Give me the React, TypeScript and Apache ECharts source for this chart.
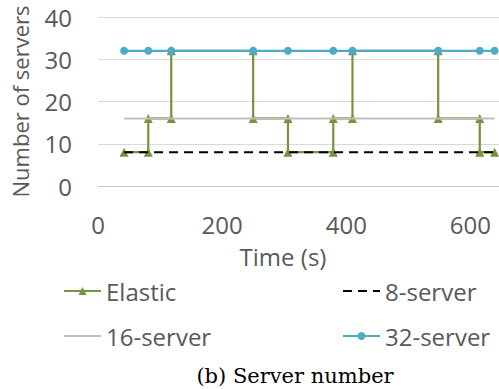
import React, { useEffect, useRef } from "react";
import * as echarts from "echarts";

const elasticData: [number, number][] = [
  [42, 8], [81, 8], [81, 16], [118, 16], [118, 32], [250, 32], [250, 16],
  [306, 16], [306, 8], [379, 8], [379, 16], [410, 16], [410, 32], [548, 32],
  [548, 16], [615, 16], [615, 8], [639, 8],
];
const sampleTimes: number[] = [42, 81, 118, 250, 306, 379, 410, 548, 615, 639];
const server8: number[] = [8, 8, 8, 8, 8, 8, 8, 8, 8, 8];
const server16: number[] = [16, 16, 16, 16, 16, 16, 16, 16, 16, 16];
const server32: number[] = [32, 32, 32, 32, 32, 32, 32, 32, 32, 32];
const yTicks = { min: 0, max: 40, interval: 10 };
const xTicks = { min: 0, max: 646, interval: 200 };

const FONT = "'Open Sans', sans-serif";
const TXT = "#595959";

export default function App() {
  const ref = useRef<HTMLDivElement>(null);
  useEffect(() => {
    if (!ref.current) return;
    const chart = echarts.init(ref.current, undefined, { renderer: "svg" });
    const zip = (vals: number[]) => sampleTimes.map((t, i) => [t, vals[i]]);
    const legendBase = {
      itemWidth: 37,
      itemHeight: 10,
      textStyle: { fontFamily: FONT, fontSize: 24, color: TXT },
      selectedMode: false as const,
      padding: 0,
    };
    chart.setOption({
      animation: false,
      grid: { left: 98, right: 0, top: 17, bottom: 203, outerBoundsMode: "none", containLabel: false },
      xAxis: {
        type: "value",
        min: xTicks.min,
        max: xTicks.max,
        interval: xTicks.interval,
        name: "Time (s)",
        nameLocation: "middle",
        nameGap: 58,
        nameTextStyle: { fontFamily: FONT, fontSize: 24, color: TXT, padding: [0, 31, 0, 0] },
        axisLine: { show: true, lineStyle: { color: "#C8C8C8", width: 1 } },
        axisTick: { show: false },
        splitLine: { show: false },
        axisLabel: { fontFamily: FONT, fontSize: 24, color: TXT, margin: 26, showMaxLabel: false },
      },
      yAxis: {
        type: "value",
        min: yTicks.min,
        max: yTicks.max,
        interval: yTicks.interval,
        name: "Number of servers",
        nameLocation: "middle",
        nameGap: 67,
        nameTextStyle: { fontFamily: FONT, fontSize: 22, color: TXT },
        axisLine: { show: false },
        axisTick: { show: false },
        splitLine: { show: true, lineStyle: { color: "#D9D9D9", width: 1 } },
        axisLabel: { fontFamily: FONT, fontSize: 24, color: TXT, margin: 26 },
      },
      legend: [
        { ...legendBase, data: ["Elastic"], left: 63, top: 279 },
        { ...legendBase, data: [{ name: "8-server", itemStyle: { opacity: 0 } }], left: 342, top: 279 },
        { ...legendBase, data: [{ name: "16-server", itemStyle: { opacity: 0 } }], left: 63, top: 324 },
        { ...legendBase, data: ["32-server"], left: 342, top: 324 },
      ],
      series: [
        {
          name: "Elastic",
          type: "line",
          data: elasticData,
          symbol: "triangle",
          symbolSize: 9,
          lineStyle: { color: "#77933C", width: 2.2 },
          itemStyle: { color: "#77933C" },
          z: 2,
        },
        {
          name: "8-server",
          type: "line",
          data: zip(server8),
          symbol: "none",
          lineStyle: { color: "#000000", width: 2, type: [9, 6] },
          itemStyle: { color: "#000000" },
          z: 3,
        },
        {
          name: "16-server",
          type: "line",
          data: zip(server16),
          symbol: "none",
          lineStyle: { color: "#BFBFBF", width: 2 },
          itemStyle: { color: "#BFBFBF" },
          z: 4,
        },
        {
          name: "32-server",
          type: "line",
          data: zip(server32),
          symbol: "circle",
          symbolSize: 8,
          lineStyle: { color: "#4BACC6", width: 2.2 },
          itemStyle: { color: "#4BACC6" },
          z: 5,
        },
      ],
      graphic: [
        {
          type: "text",
          x: 295,
          y: 365,
          style: {
            text: "(b) Server number",
            fontFamily: "'DejaVu Serif', serif",
            fontSize: 21,
            fill: "#000000",
            align: "center",
          },
        },
      ],
    });
    return () => chart.dispose();
  }, []);
  return (
    <div
      ref={ref}
      style={{ position: "fixed", left: 0, top: 0, width: 499, height: 389, background: "#fff" }}
    />
  );
}
